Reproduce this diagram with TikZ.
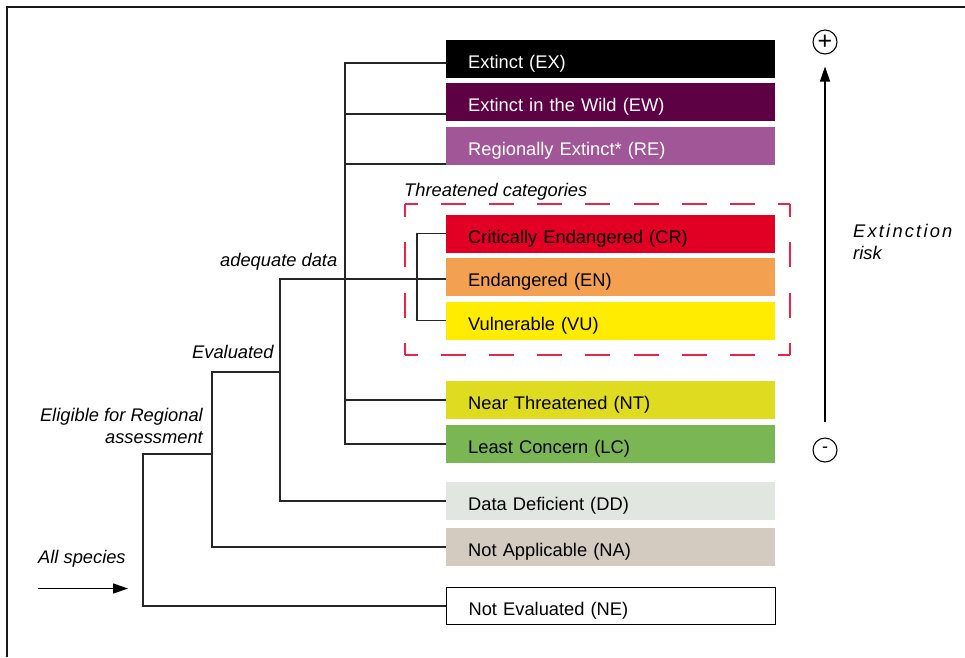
\documentclass[tikz,border=0pt]{standalone}
\usepackage{fontspec}
\setmainfont{Liberation Sans}
\usetikzlibrary{arrows.meta}
\definecolor{cEW}{RGB}{94,0,68}
\definecolor{cRE}{RGB}{161,87,151}
\definecolor{cCR}{RGB}{225,0,36}
\definecolor{cEN}{RGB}{243,160,80}
\definecolor{cVU}{RGB}{255,236,0}
\definecolor{cNT}{RGB}{222,219,32}
\definecolor{cLC}{RGB}{123,182,84}
\definecolor{cDD}{RGB}{225,230,224}
\definecolor{cNA}{RGB}{211,202,192}
\definecolor{cThr}{RGB}{232,36,72}
\begin{document}
\begin{tikzpicture}[x=1pt,y=-1pt,
    cat/.style={anchor=west,minimum height=37.5pt,text width=285pt,inner xsep=22pt,inner ysep=0pt,
      align=left,text height=19pt,text depth=0pt,font=\fontsize{18.3}{22}\selectfont},
    lbl/.style={inner sep=0pt,font=\fontsize{18.3}{22}\selectfont\itshape},
    link/.style={line width=1.2pt,black!85},
    thr/.style={line width=1.5pt,cThr,dash phase=12.5pt},
    arr/.style={line width=1.2pt,-{Triangle[length=15pt,width=10pt]}},
    sign/.style={draw,circle,line width=1.1pt,minimum size=24pt,inner sep=0pt}]
  \useasboundingbox (0,0) rectangle (965,657);
  \draw[line width=1.1pt,black!90] (7,657) -- (7,7) -- (965,7);
  % categories
  \node[cat,fill=black,text=white] (EX) at (446,58.75) {Extinct (EX)};
  \node[cat,fill=cEW,text=white] (EW) at (446,102) {Extinct in the Wild (EW)};
  \node[cat,fill=cRE,text=white] (RE) at (446,146) {Regionally Extinct* (RE)};
  \node[cat,fill=cCR] (CR) at (446,233.75) {Critically Endangered (CR)};
  \node[cat,fill=cEN] (EN) at (446,277) {Endangered (EN)};
  \node[cat,fill=cVU] (VU) at (446,320.75) {Vulnerable (VU)};
  \node[cat,fill=cNT] (NT) at (446,400) {Near Threatened (NT)};
  \node[cat,fill=cLC] (LC) at (446,444) {Least Concern (LC)};
  \node[cat,fill=cDD] (DD) at (446,501) {Data Deficient (DD)};
  \node[cat,fill=cNA] (NA) at (446,547) {Not Applicable (NA)};
  \node[cat,draw,line width=1.2pt] (NE) at (446,606) {Not Evaluated (NE)};
  % threatened box
  \draw[thr,dash pattern=on 25pt off 23.2pt] (405,204) -- (790,204) (405,355) -- (790,355);
  \draw[thr,dash pattern=on 25pt off 25.5pt] (405,204) -- (405,355) (790,204) -- (790,355);
  \node[lbl,anchor=base west] (thrlbl) at (404,196) {Threatened categories};
  % tree
  \coordinate (ntop) at (345,63);
  \coordinate (adq) at (280,279);
  \coordinate (evl) at (212,372);
  \coordinate (elg) at (143,454);
  \draw[link] ([yshift=-4.25pt]EX.west) -- (ntop) |- (LC.west);
  \foreach \n/\s in {EW/-12,RE/-18,NT/0}
    \draw[link] ([yshift=\s pt]\n.west) -| (ntop);
  \draw[link] (CR.west) -- ++(-29,0) |- (VU.west);
  \draw[link] (adq -| EN.west) -- (adq) |- (DD.west);
  \draw[link] (evl -| adq) -- (evl) |- (NA.west);
  \draw[link] (elg -| evl) -- (elg) |- (NE.west);
  \node[lbl,anchor=base west] (adqlbl) at (220,266) {adequate data};
  \node[lbl,anchor=base west] (evllbl) at (192,358) {Evaluated};
  \node[lbl,anchor=east,align=right] (elglbl) at (203,426) {Eligible for Regional\\assessment};
  \node[lbl,anchor=base west] (alllbl) at (38,563) {All species};
  \coordinate (allA) at (38,588.5);
  \coordinate (allB) at (128,588.5);
  \draw[arr] (allA) -- (allB);
  % risk axis
  \node[sign,font=\fontsize{25}{25}\selectfont] (plus) at (825,42) {+};
  \node[sign,font=\fontsize{18}{18}\selectfont] (minus) at (825,450) {-};
  \draw[arr] ([yshift=15pt]minus.north) -- ([yshift=-12pt]plus.south);
  \node[lbl,anchor=west,align=left] (risklbl) at (853,241.5) {{\addfontfeature{LetterSpace=12}Extinction}\\risk};
\end{tikzpicture}
\end{document}
